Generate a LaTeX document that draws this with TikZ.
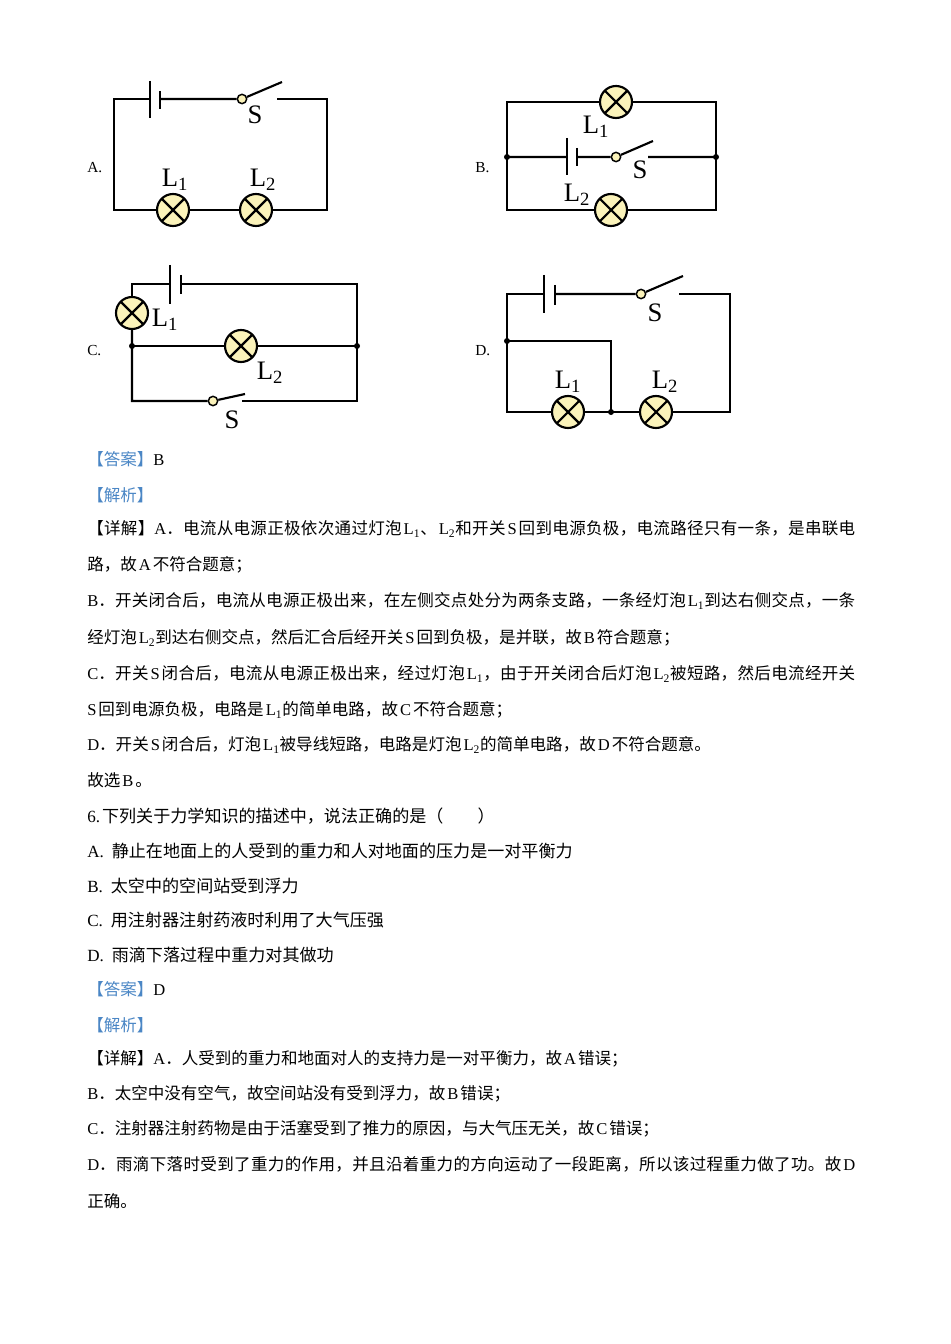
\documentclass[tikz,border=0pt]{standalone}
\usepackage{fontspec}
\setmainfont{Liberation Serif}
\newfontfamily\cjk{Noto Sans CJK SC}
\definecolor{lampfill}{HTML}{FBF3BA}
\definecolor{tagblue}{HTML}{4A86C5}

% CJK runs switch font by themselves
\XeTeXinterchartokenstate=1
\newXeTeXintercharclass\cjkcls
\newXeTeXintercharclass\cjkpunct
\newcount\cjkcnt
\def\cjkrange#1#2{\cjkcnt=#1\relax
  \loop\ifnum\cjkcnt<#2\relax
    \XeTeXcharclass\cjkcnt=\cjkcls
    \advance\cjkcnt by 1
  \repeat}
\cjkrange{"3000}{"3040}
\cjkrange{"4E00}{"A000}
\cjkrange{"FF00}{"FFF0}
\XeTeXcharclass"FF0E=\cjkpunct
\XeTeXcharclass"3011=\cjkpunct
\XeTeXinterchartoks 0 \cjkcls={\hskip0.12em\relax\cjk}
\XeTeXinterchartoks 4095 \cjkcls={\cjk}
\XeTeXinterchartoks \cjkcls 0={\rmfamily\hskip0.12em\relax}
\XeTeXinterchartoks \cjkcls 4095={\rmfamily}
\XeTeXinterchartoks \cjkcls \cjkcls={\hskip 0pt plus 2pt minus 0.5pt\relax}
\XeTeXinterchartoks 0 \cjkpunct={\cjk}
\XeTeXinterchartoks 4095 \cjkpunct={\cjk}
\XeTeXinterchartoks \cjkpunct 0={\rmfamily}
\XeTeXinterchartoks \cjkpunct 4095={\rmfamily}
\XeTeXinterchartoks \cjkcls \cjkpunct={\hskip 0pt plus 2pt minus 0.5pt\relax}
\XeTeXinterchartoks \cjkpunct \cjkcls={\hskip 0pt plus 2pt minus 0.5pt\relax}
\XeTeXlinebreaklocale "zh"
\XeTeXlinebreakskip=0pt plus 2pt\relax
\newcommand{\fullrow}[1]{\hbox to 576pt{#1}}

\tikzset{
  wire/.style={line width=1.6pt},
  lamp/.style={circle, draw, line width=1.6pt, fill=lampfill, minimum size=24pt, inner sep=0pt,
    path picture={\draw[line width=1.6pt] (path picture bounding box.north west) -- (path picture bounding box.south east)
      (path picture bounding box.south west) -- (path picture bounding box.north east);}},
  pivot/.style={circle, draw, line width=1.1pt, fill=lampfill, minimum size=7pt, inner sep=0pt},
  junc/.style={circle, fill, minimum size=4.5pt, inner sep=0pt},
  tag/.style={font=\fontsize{20}{24}\selectfont, inner sep=0pt},
  circname/.style={anchor=west, inner sep=0pt, font=\fontsize{11.5}{14}\selectfont},
  body/.style={anchor=west, inner sep=0pt, font=\fontsize{12.4}{15}\selectfont},
  optrow/.style={anchor=west, inner sep=0pt, font=\fontsize{12.8}{15}\selectfont}
}

\begin{document}
\begin{tikzpicture}[x=0.75pt, y=-0.75pt]
  \useasboundingbox[fill=white] (0,0) rectangle (950,1344);

  % circuit A
  \coordinate (a-tl) at (114,99);
  \coordinate (a-tr) at (327,99);
  \coordinate (a-bl) at (114,210);
  \coordinate (a-br) at (327,210);
  \coordinate (a-bp) at (150,99);
  \coordinate (a-bn) at (160,99);
  \coordinate (a-sc) at (277,99);
  \coordinate (a-sb) at (282,82);
  \node[lamp] (a-l1) at (173,210) {};
  \node[lamp] (a-l2) at (256,210) {};
  \node[pivot] (a-s) at (242,99) {};
  \draw[wire] (a-bp) -- (a-tl) -- (a-bl) -- (a-l1) (a-l1) -- (a-l2) (a-l2) -- (a-br) -- (a-tr) -- (a-sc);
  \draw[wire] (a-bn) -- (a-s) (a-s) -- (a-sb);
  \draw[wire] (150,81) -- (150,118) (160,91) -- (160,109);
  \node[tag] (a-slbl) at (255,115) {S};
  \node[tag] (a-l1lbl) at (175,180) {L\textsubscript{1}};
  \node[tag] (a-l2lbl) at (263,180) {L\textsubscript{2}};
  \node[circname] (a-name) at (87,168) {A.};

  % circuit B
  \coordinate (b-tl) at (507,102);
  \coordinate (b-tr) at (716,102);
  \coordinate (b-ml) at (507,157);
  \coordinate (b-mr) at (716,157);
  \coordinate (b-bl) at (507,210);
  \coordinate (b-br) at (716,210);
  \coordinate (b-bp) at (567,157);
  \coordinate (b-bn) at (577,157);
  \coordinate (b-sc) at (648,157);
  \coordinate (b-sb) at (653,141);
  \node[lamp] (b-l1) at (616,102) {};
  \node[lamp] (b-l2) at (611,210) {};
  \node[pivot] (b-s) at (616,157) {};
  \draw[wire] (b-l1) -- (b-tl) -- (b-bl) -- (b-l2) (b-l2) -- (b-br) -- (b-tr) -- (b-l1);
  \draw[wire] (b-ml) -- (b-bp) (b-bn) -- (b-s) (b-s) -- (b-sb) (b-sc) -- (b-mr);
  \draw[wire] (567,138) -- (567,175) (577,148) -- (577,166);
  \node[junc] (b-jl) at (b-ml) {};
  \node[junc] (b-jr) at (b-mr) {};
  \node[tag] (b-slbl) at (640,170) {S};
  \node[tag] (b-l1lbl) at (596,127) {L\textsubscript{1}};
  \node[tag] (b-l2lbl) at (577,195) {L\textsubscript{2}};
  \node[circname] (b-name) at (475,168) {B.};

  % circuit C
  \coordinate (c-tl) at (132,284);
  \coordinate (c-tr) at (357,284);
  \coordinate (c-ml) at (132,346);
  \coordinate (c-mr) at (357,346);
  \coordinate (c-bl) at (132,401);
  \coordinate (c-br) at (357,401);
  \coordinate (c-bp) at (170,284);
  \coordinate (c-bn) at (181,284);
  \coordinate (c-sc) at (242,401);
  \coordinate (c-sb) at (245,394);
  \node[lamp] (c-l1) at (132,313) {};
  \node[lamp] (c-l2) at (241,346) {};
  \node[pivot] (c-s) at (213,401) {};
  \draw[wire] (c-l1) -- (c-tl) -- (c-bp) (c-bn) -- (c-tr) -- (c-br) -- (c-sc);
  \draw[wire] (c-l1) -- (c-ml) -- (c-bl) -- (c-s) (c-s) -- (c-sb);
  \draw[wire] (c-ml) -- (c-l2) (c-l2) -- (c-mr);
  \draw[wire] (170,265) -- (170,304) (181,275) -- (181,294);
  \node[junc] (c-jl) at (c-ml) {};
  \node[junc] (c-jr) at (c-mr) {};
  \node[tag] (c-l1lbl) at (165,320) {L\textsubscript{1}};
  \node[tag] (c-l2lbl) at (270,373) {L\textsubscript{2}};
  \node[tag] (c-slbl) at (232,420) {S};
  \node[circname] (c-name) at (87,351) {C.};

  % circuit D
  \coordinate (d-tl) at (507,294);
  \coordinate (d-tr) at (730,294);
  \coordinate (d-bl) at (507,412);
  \coordinate (d-br) at (730,412);
  \coordinate (d-j) at (507,341);
  \coordinate (d-k) at (611,341);
  \coordinate (d-m) at (611,412);
  \coordinate (d-bp) at (544,294);
  \coordinate (d-bn) at (555,294);
  \coordinate (d-sc) at (679,294);
  \coordinate (d-sb) at (683,276);
  \node[lamp] (d-l1) at (568,412) {};
  \node[lamp] (d-l2) at (656,412) {};
  \node[pivot] (d-s) at (641,294) {};
  \draw[wire] (d-bp) -- (d-tl) -- (d-bl) -- (d-l1) (d-l1) -- (d-l2) (d-l2) -- (d-br) -- (d-tr) -- (d-sc);
  \draw[wire] (d-bn) -- (d-s) (d-s) -- (d-sb);
  \draw[wire] (d-j) -- (d-k) -- (d-m);
  \draw[wire] (544,275) -- (544,313) (555,285) -- (555,305);
  \node[junc] (d-jl) at (d-j) {};
  \node[junc] (d-jm) at (d-m) {};
  \node[tag] (d-slbl) at (655,313) {S};
  \node[tag] (d-l1lbl) at (568,382) {L\textsubscript{1}};
  \node[tag] (d-l2lbl) at (665,382) {L\textsubscript{2}};
  \node[circname] (d-name) at (475,351) {D.};

  % answer to question 5
  \node[body] (ans5) at (87,459) {{\color{tagblue}【答案】}B};
  \node[body] (ana5) at (87,495) {{\color{tagblue}【解析】}};
  \node[body] (det5a) at (87,529) {\fullrow{【详解】A．电流从电源正极依次通过灯泡L\textsubscript{1}、L\textsubscript{2}和开关S回到电源负极，电流路径只有一条，是串联电}};
  \node[body] (det5b) at (87,565) {路，故A不符合题意；};
  \node[body] (det5c) at (87,601) {\fullrow{B．开关闭合后，电流从电源正极出来，在左侧交点处分为两条支路，一条经灯泡L\textsubscript{1}到达右侧交点，一条}};
  \node[body] (det5d) at (87,638) {经灯泡L\textsubscript{2}到达右侧交点，然后汇合后经开关S回到负极，是并联，故B符合题意；};
  \node[body] (det5e) at (87,674) {\fullrow{C．开关S闭合后，电流从电源正极出来，经过灯泡L\textsubscript{1}，由于开关闭合后灯泡L\textsubscript{2}被短路，然后电流经开关}};
  \node[body] (det5f) at (87,710) {S回到电源负极，电路是L\textsubscript{1}的简单电路，故C不符合题意；};
  \node[body] (det5g) at (87,745) {D．开关S闭合后，灯泡L\textsubscript{1}被导线短路，电路是灯泡L\textsubscript{2}的简单电路，故D不符合题意。};
  \node[body] (det5h) at (87,780) {故选B。};

  % question 6
  \node[optrow] (q6) at (87,816) {6.下列关于力学知识的描述中，说法正确的是（\hspace{2em}）};
  \foreach \y/\k/\t in {851/A/静止在地面上的人受到的重力和人对地面的压力是一对平衡力,
                        886/B/太空中的空间站受到浮力,
                        920/C/用注射器注射药液时利用了大气压强,
                        955/D/雨滴下落过程中重力对其做功}
    \node[optrow] (opt\k) at (87,\y) {\k.\hspace{6pt}\t};

  % answer to question 6
  \node[body] (ans6) at (87,989) {{\color{tagblue}【答案】}D};
  \node[body] (ana6) at (87,1025) {{\color{tagblue}【解析】}};
  \node[body] (det6a) at (87,1059) {【详解】A．人受到的重力和地面对人的支持力是一对平衡力，故A错误；};
  \node[body] (det6b) at (87,1094) {B．太空中没有空气，故空间站没有受到浮力，故B错误；};
  \node[body] (det6c) at (87,1129) {C．注射器注射药物是由于活塞受到了推力的原因，与大气压无关，故C错误；};
  \node[body] (det6d) at (87,1164) {\fullrow{D．雨滴下落时受到了重力的作用，并且沿着重力的方向运动了一段距离，所以该过程重力做了功。故D}};
  \node[body] (det6e) at (87,1201) {正确。};
\end{tikzpicture}
\end{document}
